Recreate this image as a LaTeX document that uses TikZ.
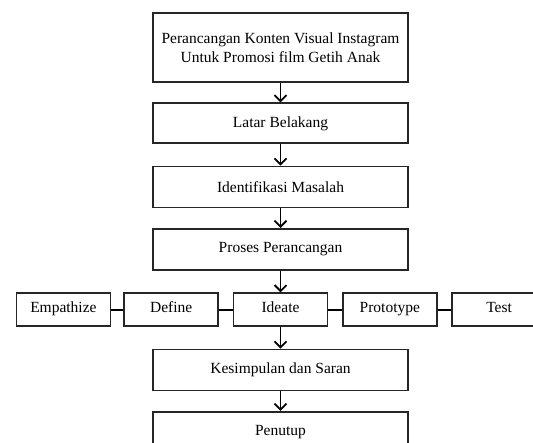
\documentclass[tikz,border=0pt]{standalone}
\usepackage{fontspec}
\setmainfont{Liberation Serif}
\usepackage{tikz}
\usetikzlibrary{arrows.meta,positioning}

\begin{document}
\begin{tikzpicture}[x=1pt, y=1pt, node distance=19pt, auto,
  block/.style={rectangle, draw=black!85, line width=1.8pt, align=center, minimum width=255pt, minimum height=41pt, font=\fontsize{15.5}{19}\selectfont},
  step box/.style={rectangle, draw=black!85, line width=1.8pt, minimum width=94pt, minimum height=33pt, text height=1.6ex, text depth=.45ex, font=\fontsize{15.5}{19}\selectfont},
  line/.style={draw, line width=1.8pt, -{Straight Barb[length=6pt, width=12pt, line width=1.8pt]}},
  link/.style={draw, line width=1.8pt}]

  \useasboundingbox (0,0) rectangle (533,-443);

  % Nodes
  \node [block, minimum height=69pt] (judul) at (280.5,-47.5) {Perancangan Konten Visual Instagram\\Untuk Promosi film Getih Anak};
  \node [block, below=19.5pt of judul, minimum height=40pt] (latar) {Latar Belakang};
  \node [block, below=21.5pt of latar] (identifikasi) {Identifikasi Masalah};
  \node [block, below=19.5pt of identifikasi] (proses) {Proses Perancangan};
  \node [step box, below=21.5pt of proses] (ideate) {Ideate};
  \node [step box, left=13.5pt of ideate] (define) {Define};
  \node [step box, left=12pt of define] (empathize) {Empathize};
  \node [step box, right=13.5pt of ideate] (prototype) {Prototype};
  \node [step box, right=13.5pt of prototype] (test) {Test};
  \node [block, below=21.5pt of ideate] (kesimpulan) {Kesimpulan dan Saran};
  \node [block, below=19.5pt of kesimpulan] (penutup) {Penutup};

  % Edges
  \path [line] (judul) -- (latar);
  \path [line] (latar) -- (identifikasi);
  \path [line] (identifikasi) -- (proses);
  \path [line] (proses) -- (ideate);
  \path [line] (ideate) -- (kesimpulan);
  \path [line] (kesimpulan) -- (penutup);

  \path [link] (empathize) -- (define);
  \path [link] (define) -- (ideate);
  \path [link] (ideate) -- (prototype);
  \path [link] (prototype) -- (test);

\end{tikzpicture}
\end{document}
